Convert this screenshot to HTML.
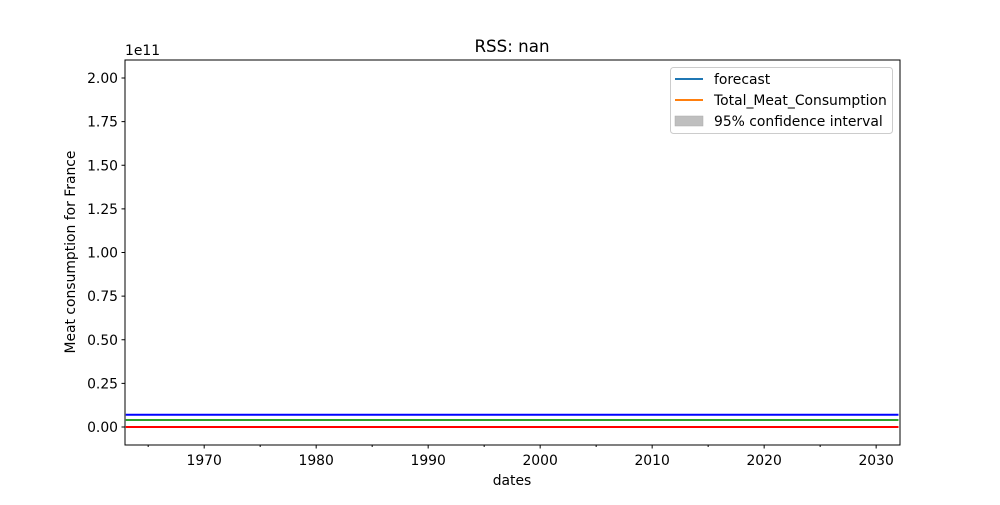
<!DOCTYPE html>
<html><head><meta charset="utf-8"><style>
html,body{margin:0;padding:0;background:#fff;}
svg text{font-family:"DejaVu Sans","Liberation Sans",sans-serif;fill:#000;}
</style></head><body>
<svg id="chart" width="1000" height="500" xmlns="http://www.w3.org/2000/svg"></svg>
<script>
const years = [];
for (let y = 1963; y <= 2032; y++) years.push(y);
const blueValues = years.map(() => 7.0e9);
const greenValues = years.map(() => 4.0e9);
const redValues = years.map(() => 0);
const yTicks = [0, 0.25e11, 0.5e11, 0.75e11, 1.0e11, 1.25e11, 1.5e11, 1.75e11, 2.0e11];
const yTickLabels = ["0.00","0.25","0.50","0.75","1.00","1.25","1.50","1.75","2.00"];
const xTicks = [1970, 1980, 1990, 2000, 2010, 2020, 2030];
const xMinor = [1965, 1975, 1985, 1995, 2005, 2015, 2025];

const L=125,R=900,T=60,B=445;
const x0=1962.93,x1=2032.13;
const xs = v => L + (v - x0) / (x1 - x0) * (R - L);
const ys = v => 427 - v / 2.0e11 * (427 - 78);
const svg = document.getElementById('chart');
const NS = 'http://www.w3.org/2000/svg';
function mk(tag, attrs, parent){const e=document.createElementNS(NS,tag);for(const k in attrs)e.setAttribute(k,attrs[k]);(parent||svg).appendChild(e);return e;}

const clip = mk('clipPath',{id:'c'}); mk('rect',{x:L,y:T,width:R-L,height:B-T},clip);
const g = mk('g',{'clip-path':'url(#c)'});
function lineG(vals,color,name){
  const d = years.map((y,i)=>(i?'L':'M')+xs(y).toFixed(1)+','+ys(vals[i]).toFixed(1)).join('');
  const p = mk('path',{d:d,stroke:color,'stroke-width':2,fill:'none'},g);
  
  
}
lineG(blueValues,'#0000ff','blue-line');
lineG(greenValues,'#2ca02c','green-line');
lineG(redValues,'#ff0000','red-line');

mk('rect',{x:L,y:T,width:R-L,height:B-T,fill:'none',stroke:'#000','stroke-width':1});

yTicks.forEach((v,i)=>{
  const y=ys(v);
  mk('line',{x1:L-3.5,x2:L,y1:y,y2:y,stroke:'#000'});
  const t=mk('text',{x:L-7,y:y+5,'text-anchor':'end','font-size':13.9});
  t.textContent=yTickLabels[i];
  
  
});
xTicks.forEach(v=>{
  const x=xs(v);
  mk('line',{x1:x,x2:x,y1:B,y2:B+3.5,stroke:'#000'});
  const t=mk('text',{x:x,y:B+20,'text-anchor':'middle','font-size':13.9});
  t.textContent=v;
  
  
});
xMinor.forEach(v=>{const x=xs(v);mk('line',{x1:x,x2:x,y1:B,y2:B+2,stroke:'#000'});});
</script>
<svg width="1000" height="500" style="position:absolute;left:0;top:0" xmlns="http://www.w3.org/2000/svg">
<text x="125" y="55" font-size="13.9">1e11</text>
<text x="512" y="52" font-size="16.7" text-anchor="middle">RSS: nan</text>
<text x="512" y="485" font-size="13.9" text-anchor="middle">dates</text>
<text transform="translate(75,252) rotate(-90)" font-size="13.9" text-anchor="middle">Meat consumption for France</text>
<g>
<rect x="670.5" y="67.5" width="222" height="66" rx="3" fill="#fff" stroke="#ccc"/>
<line x1="675" x2="703" y1="79" y2="79" stroke="#1f77b4" stroke-width="2"/>
<text x="714" y="84" font-size="13.9">forecast</text>
<line x1="675" x2="703" y1="100" y2="100" stroke="#ff7f0e" stroke-width="2"/>
<text x="714" y="105" font-size="13.9">Total_Meat_Consumption</text>
<rect x="675" y="116" width="28" height="10" fill="#bfbfbf" stroke="#aaa" stroke-width="0.5"/>
<text x="714" y="126" font-size="13.9">95% confidence interval</text>
</g>
</svg>
</body></html>
